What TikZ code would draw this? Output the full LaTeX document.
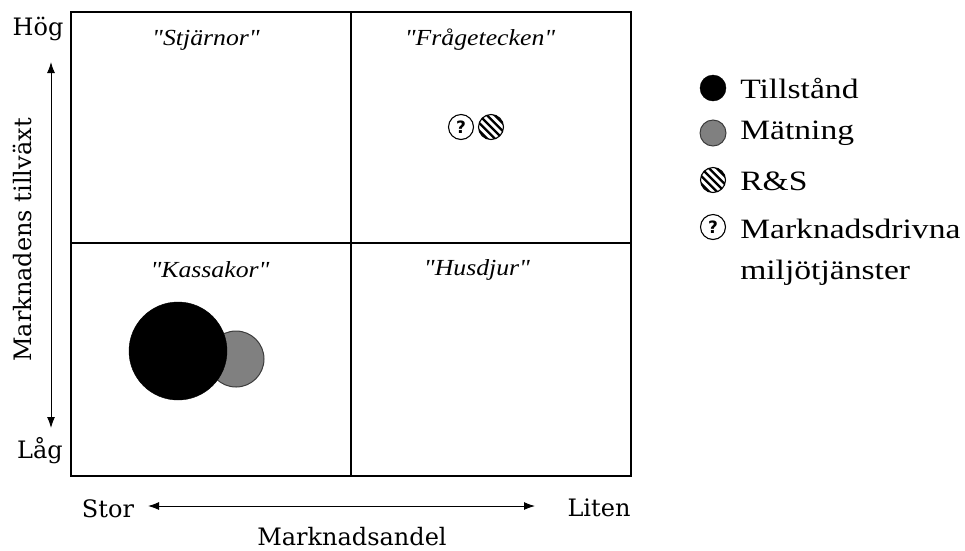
\documentclass[tikz,border=0pt]{standalone}
\usepackage{fontspec}
\setmainfont{Liberation Serif}
\newfontfamily\garafont{Liberation Serif}
\newfontfamily\axisfont{DejaVu Serif}
\newfontfamily\qfont{DejaVu Sans}
\usetikzlibrary{arrows.meta}
\definecolor{midgray}{RGB}{128,128,128}
\definecolor{rimgray}{RGB}{60,60,60}
\tikzset{
  frame/.style={draw=black, line width=1.3pt},
  axisarrow/.style={line width=1pt, {Latex[length=11pt,width=8pt]}-{Latex[length=11pt,width=8pt]}},
  axislabel/.style={font=\axisfont\fontsize{24}{26}\selectfont, inner sep=0pt},
  quadlabel/.style={font=\garafont\itshape\fontsize{23}{25}\selectfont, inner sep=0pt,
    xscale=1.12, transform shape},
  legendtext/.style={font=\garafont\fontsize{28}{30}\selectfont, inner sep=0pt, anchor=west,
    xscale=1.2, transform shape},
  blackdot/.style={circle, fill=black, draw=black, inner sep=0pt},
  graydot/.style={circle, fill=midgray, draw=rimgray, line width=1pt, inner sep=0pt},
  askdot/.style={circle, fill=white, draw=black, line width=1.1pt, inner sep=0pt,
    minimum size=25pt, font=\qfont\bfseries\fontsize{17}{17}\selectfont},
  hatchdot/.style={circle, fill=white, draw=black, line width=1.1pt, inner sep=0pt,
    minimum size=25pt,
    path picture={
      \foreach \k in {-4,...,4}{
        \draw[line width=2.3pt]
          ([shift={(\k*3.9pt-20pt,\k*3.9pt+20pt)}]path picture bounding box.center)
          -- ++(40pt,-40pt);
      }
    }},
}
\begin{document}
\begin{tikzpicture}[x=1pt,y=-1pt]
  \useasboundingbox (0,0) rectangle (965,550);

  % quadrant frame
  \draw[frame] (71,12) rectangle (631,476);
  \draw[frame] (351,12) -- (351,476);
  \draw[frame] (71,243) -- (631,243);

  % quadrant titles
  \node[quadlabel] (stars) at (206,40) {"Stjärnor"};
  \node[quadlabel] (quest) at (480,40) {"Frågetecken"};
  \node[quadlabel] (cows)  at (210,270) {"Kassakor"};
  \node[quadlabel] (pets)  at (477,270) {"Husdjur"};

  % vertical axis
  \node[axislabel] (high) at (38,29) {Hög};
  \node[axislabel] (low)  at (40,451) {Låg};
  \coordinate (vtop) at (51,62);
  \coordinate (vbot) at (51,428);
  \draw[axisarrow] (vbot) -- (vtop);
  \node[axislabel, rotate=90] (growth) at (22,240) {Marknadens tillväxt};

  % horizontal axis
  \node[axislabel] (big)   at (108,509) {Stor};
  \node[axislabel] (small) at (599,508) {Liten};
  \coordinate (hleft)  at (148,506);
  \coordinate (hright) at (535,506);
  \draw[axisarrow] (hleft) -- (hright);
  \node[axislabel] (share) at (352,537) {Marknadsandel};

  % business areas
  \node[graydot, minimum size=56pt] (meas) at (236,359) {};
  \node[blackdot, minimum size=98pt] (state) at (178,351) {};
  \node[askdot] (market) at (461,127) {?};
  \node[hatchdot] (rnd) at (491,127) {};

  % legend
  \node[blackdot, minimum size=26pt] (lg1) at (713,88) {};
  \node[graydot, minimum size=26pt] (lg2) at (713,133) {};
  \node[hatchdot] (lg3) at (713,180) {};
  \node[askdot] (lg4) at (713,227) {?};
  \node[legendtext] (lt1) at (740,88) {Tillstånd};
  \node[legendtext] (lt2) at (740,133) {Mätning};
  \node[legendtext] (lt3) at (740,181) {R\&S};
  \node[legendtext] (lt4) at (740,229) {Marknadsdrivna};
  \node[legendtext] (lt5) at (740,273) {miljötjänster};
\end{tikzpicture}
\end{document}
